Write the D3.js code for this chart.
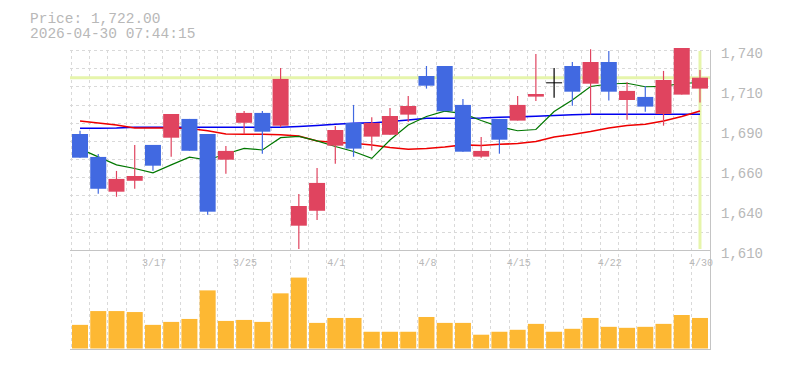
<!DOCTYPE html>
<html>
<head>
<meta charset="utf-8">
<script src="https://cdn.jsdelivr.net/npm/d3@7"></script>
<style>
  body { margin: 0; background: #fff; }
</style>
</head>
<body>
<div id="chart"></div>
<script>
// Daily candles, 2026-03-11 .. 2026-04-30
const dates = ["3/11","3/12","3/13","3/16","3/17","3/18","3/19","3/23","3/24","3/25",
               "3/26","3/27","3/30","3/31","4/1","4/2","4/3","4/6","4/7","4/8",
               "4/9","4/10","4/13","4/14","4/15","4/16","4/17","4/20","4/21","4/22",
               "4/23","4/24","4/27","4/28","4/30"];
const dateLabels = ["3/17","3/25","4/1","4/8","4/15","4/22","4/30"];

const open  = [1685.4,1670.5,1647.9,1655.0,1678.3,1683.0,1695.2,1685.4,1668.7,1692.7,
               1699.1,1690.8,1625.8,1635.5,1677.8,1692.6,1683.7,1684.9,1698.0,1723.1,
               1729.6,1704.3,1670.7,1695.2,1694.1,1709.7,1719.0,1729.6,1718.1,1732.2,
               1707.5,1709.5,1698.4,1711.0,1714.9];
const close = [1670.0,1649.8,1656.2,1658.1,1664.8,1698.4,1674.5,1634.9,1674.4,1699.1,
               1686.9,1721.2,1638.6,1653.6,1688.0,1675.9,1692.6,1697.1,1703.6,1716.8,
               1700.2,1673.9,1674.4,1681.7,1704.3,1711.4,1719.0,1712.9,1732.2,1712.9,
               1713.4,1703.2,1720.5,1741.3,1722.0];
const high  = [1687.5,1672.4,1661.4,1678.3,1678.3,1698.4,1695.2,1685.4,1677.6,1700.4,
               1700.4,1728.3,1646.4,1663.3,1690.6,1704.3,1696.3,1702.3,1710.1,1729.6,
               1729.6,1708.2,1683.5,1695.2,1710.1,1737.4,1728.3,1732.2,1740.5,1739.4,
               1719.0,1716.6,1726.4,1741.3,1727.0];
const low   = [1670.0,1646.6,1644.6,1649.8,1661.5,1670.6,1674.5,1632.9,1659.6,1685.2,
               1672.6,1689.8,1610.7,1629.5,1666.1,1670.6,1674.6,1684.9,1693.2,1714.9,
               1700.2,1673.9,1670.0,1672.6,1694.1,1706.9,1709.0,1703.8,1698.0,1707.1,
               1694.7,1699.9,1690.8,1711.0,1705.8];
const volume = [2400,3800,3800,3700,2400,2700,3000,5900,2800,2900,
                2700,5600,7200,2600,3100,3100,1700,1700,1700,3200,
                2600,2600,1400,1700,1900,2500,1700,2000,3100,2200,
                2100,2200,2500,3400,3100];

// moving averages
const ma5  = [1675.7,1670.5,1665.3,1663.0,1660.2,1665.3,1670.3,1668.5,1672.4,1676.1,
              1675.0,1683.0,1683.9,1680.9,1677.3,1674.0,1669.6,1681.5,1691.3,1696.8,
              1700.2,1698.7,1694.2,1690.0,1687.5,1688.3,1700.0,1707.5,1716.3,1717.9,
              1718.4,1716.1,1716.3,1718.4,1718.7];
const ma25 = [1693.9,1692.6,1691.3,1689.3,1689.3,1689.3,1689.0,1687.5,1685.4,1685.2,
              1685.2,1684.9,1684.1,1680.9,1679.9,1679.4,1678.3,1676.6,1675.5,1676.0,
              1677.0,1678.3,1677.9,1678.7,1679.2,1680.5,1683.5,1685.1,1687.0,1689.3,
              1690.9,1691.7,1693.9,1696.8,1700.4];
const ma75 = [1689.1,1689.1,1689.3,1689.8,1689.8,1689.8,1689.8,1689.8,1689.8,1689.8,
              1689.8,1689.8,1690.3,1690.9,1691.7,1692.4,1692.6,1693.5,1694.5,1695.6,
              1695.6,1695.6,1695.8,1696.3,1696.5,1696.9,1697.4,1697.9,1698.2,1698.2,
              1698.2,1698.2,1698.2,1698.2,1698.2];

const priceTicks = [1740, 1714, 1688, 1662, 1636, 1610];
const priceTickLabels = ["1,740","1,710","1,690","1,660","1,640","1,610"];
const lastPrice = 1722;
const stamp = "2026-04-30 07:44:15";

const width = 785, height = 370;
const left = 70.9, right = 709.1;
const priceTop = 50, priceBottom = 250, volTop = 250, volBottom = 348.5;

const svg = d3.select("#chart")
  .append("svg")
    .attr("width", width)
    .attr("height", height)
    .style("font-family", "'Liberation Mono', 'DejaVu Sans Mono', monospace");

const x = d3.scalePoint().domain(dates).range([left, right]).padding(0.5);
const step = x.step();
const bodyW = 16;
const y = d3.scaleLinear().domain([1610, 1740]).range([priceBottom, priceTop]);
const yVol = d3.scaleLinear().domain([0, 10000]).range([volBottom, volTop]);

const gridColor = "#d9d9d9";
const textColor = "#b8b8b8";

// horizontal grid (11 bands)
const hGrid = d3.range(1, 12).map(k => 1610 + k * 130 / 11);
svg.append("g")
  .selectAll("line")
  .data(hGrid)
  .join("line")
    .attr("x1", 70).attr("x2", 710)
    .attr("y1", d => Math.round(y(d)) + 0.5)
    .attr("y2", d => Math.round(y(d)) + 0.5)
    .attr("stroke", gridColor)
    .attr("stroke-dasharray", "3,3");

// vertical grid at slot edges
svg.append("g")
  .selectAll("line")
  .data(dates)
  .join("line")
    .attr("x1", d => Math.round(x(d) - step / 2) + 0.5)
    .attr("x2", d => Math.round(x(d) - step / 2) + 0.5)
    .attr("y1", priceTop).attr("y2", 350)
    .attr("stroke", gridColor)
    .attr("stroke-dasharray", "3,3");

// current price markers
svg.append("line")
  .attr("x1", 70).attr("x2", 710)
  .attr("y1", y(lastPrice)).attr("y2", y(lastPrice))
  .attr("stroke", "#e6f5ab")
  .attr("stroke-width", 3);
svg.append("line")
  .attr("x1", x(dates[dates.length - 1])).attr("x2", x(dates[dates.length - 1]))
  .attr("y1", 51).attr("y2", 249)
  .attr("stroke", "#e6f5ab")
  .attr("stroke-width", 3);

// moving average lines
const line = d3.line().x((d, i) => x(dates[i])).y(d => y(d));
[[ma75, "#0000ee", 1.6], [ma25, "#ee0000", 1.6], [ma5, "#007700", 1.2]].forEach(([s, c, w]) => {
  svg.append("path")
    .datum(s)
    .attr("fill", "none")
    .attr("stroke", c)
    .attr("stroke-width", w)
    .attr("d", line);
});

// candles
const candleColor = i => close[i] > open[i] ? "#e0445f" : (close[i] < open[i] ? "#4169e1" : "#000");
const candles = svg.append("g")
  .selectAll("g")
  .data(dates)
  .join("g");
candles.append("line")
    .attr("x1", d => x(d)).attr("x2", d => x(d))
    .attr("y1", (d, i) => y(high[i]))
    .attr("y2", (d, i) => y(low[i]))
    .attr("stroke", (d, i) => candleColor(i))
    .attr("stroke-width", 1.2);
candles.append("rect")
    .attr("x", d => x(d) - bodyW / 2)
    .attr("width", bodyW)
    .attr("y", (d, i) => y(Math.max(open[i], close[i])))
    .attr("height", (d, i) => Math.max(1, Math.abs(y(open[i]) - y(close[i]))))
    .attr("fill", (d, i) => candleColor(i));

// volume bars
svg.append("g")
  .selectAll("rect")
  .data(volume)
  .join("rect")
    .attr("x", (d, i) => x(dates[i]) - bodyW / 2)
    .attr("width", bodyW)
    .attr("y", d => yVol(d))
    .attr("height", d => volBottom - yVol(d))
    .attr("fill", "#fdb833");

// frame
const frame = svg.append("g").attr("stroke", "#c4c4c4").attr("stroke-width", 1);
frame.append("line").attr("x1", 70).attr("x2", 711).attr("y1", 250.5).attr("y2", 250.5);
frame.append("line").attr("x1", 70).attr("x2", 711).attr("y1", 349.5).attr("y2", 349.5);
frame.append("line").attr("x1", 710.5).attr("x2", 710.5).attr("y1", 50).attr("y2", 350);

// price axis labels
svg.append("g")
  .selectAll("text")
  .data(priceTicks)
  .join("text")
    .attr("x", 721)
    .attr("y", d => y(d) + 7.5)
    .attr("font-size", "14px")
    .attr("fill", textColor)
    .text((d, i) => priceTickLabels[i]);

// date labels
svg.append("g")
  .selectAll("text")
  .data(dateLabels)
  .join("text")
    .attr("x", d => x(d) + 1)
    .attr("y", 266)
    .attr("text-anchor", "middle")
    .attr("font-size", "10px")
    .attr("fill", textColor)
    .text(d => d);

// header
svg.append("text")
  .attr("x", 30).attr("y", 22.5)
  .attr("font-size", "14.5px")
  .attr("fill", textColor)
  .text("Price: " + d3.format(",.2f")(lastPrice));
svg.append("text")
  .attr("x", 30).attr("y", 37.5)
  .attr("font-size", "14.5px")
  .attr("fill", textColor)
  .text(stamp);
</script>
</body>
</html>
